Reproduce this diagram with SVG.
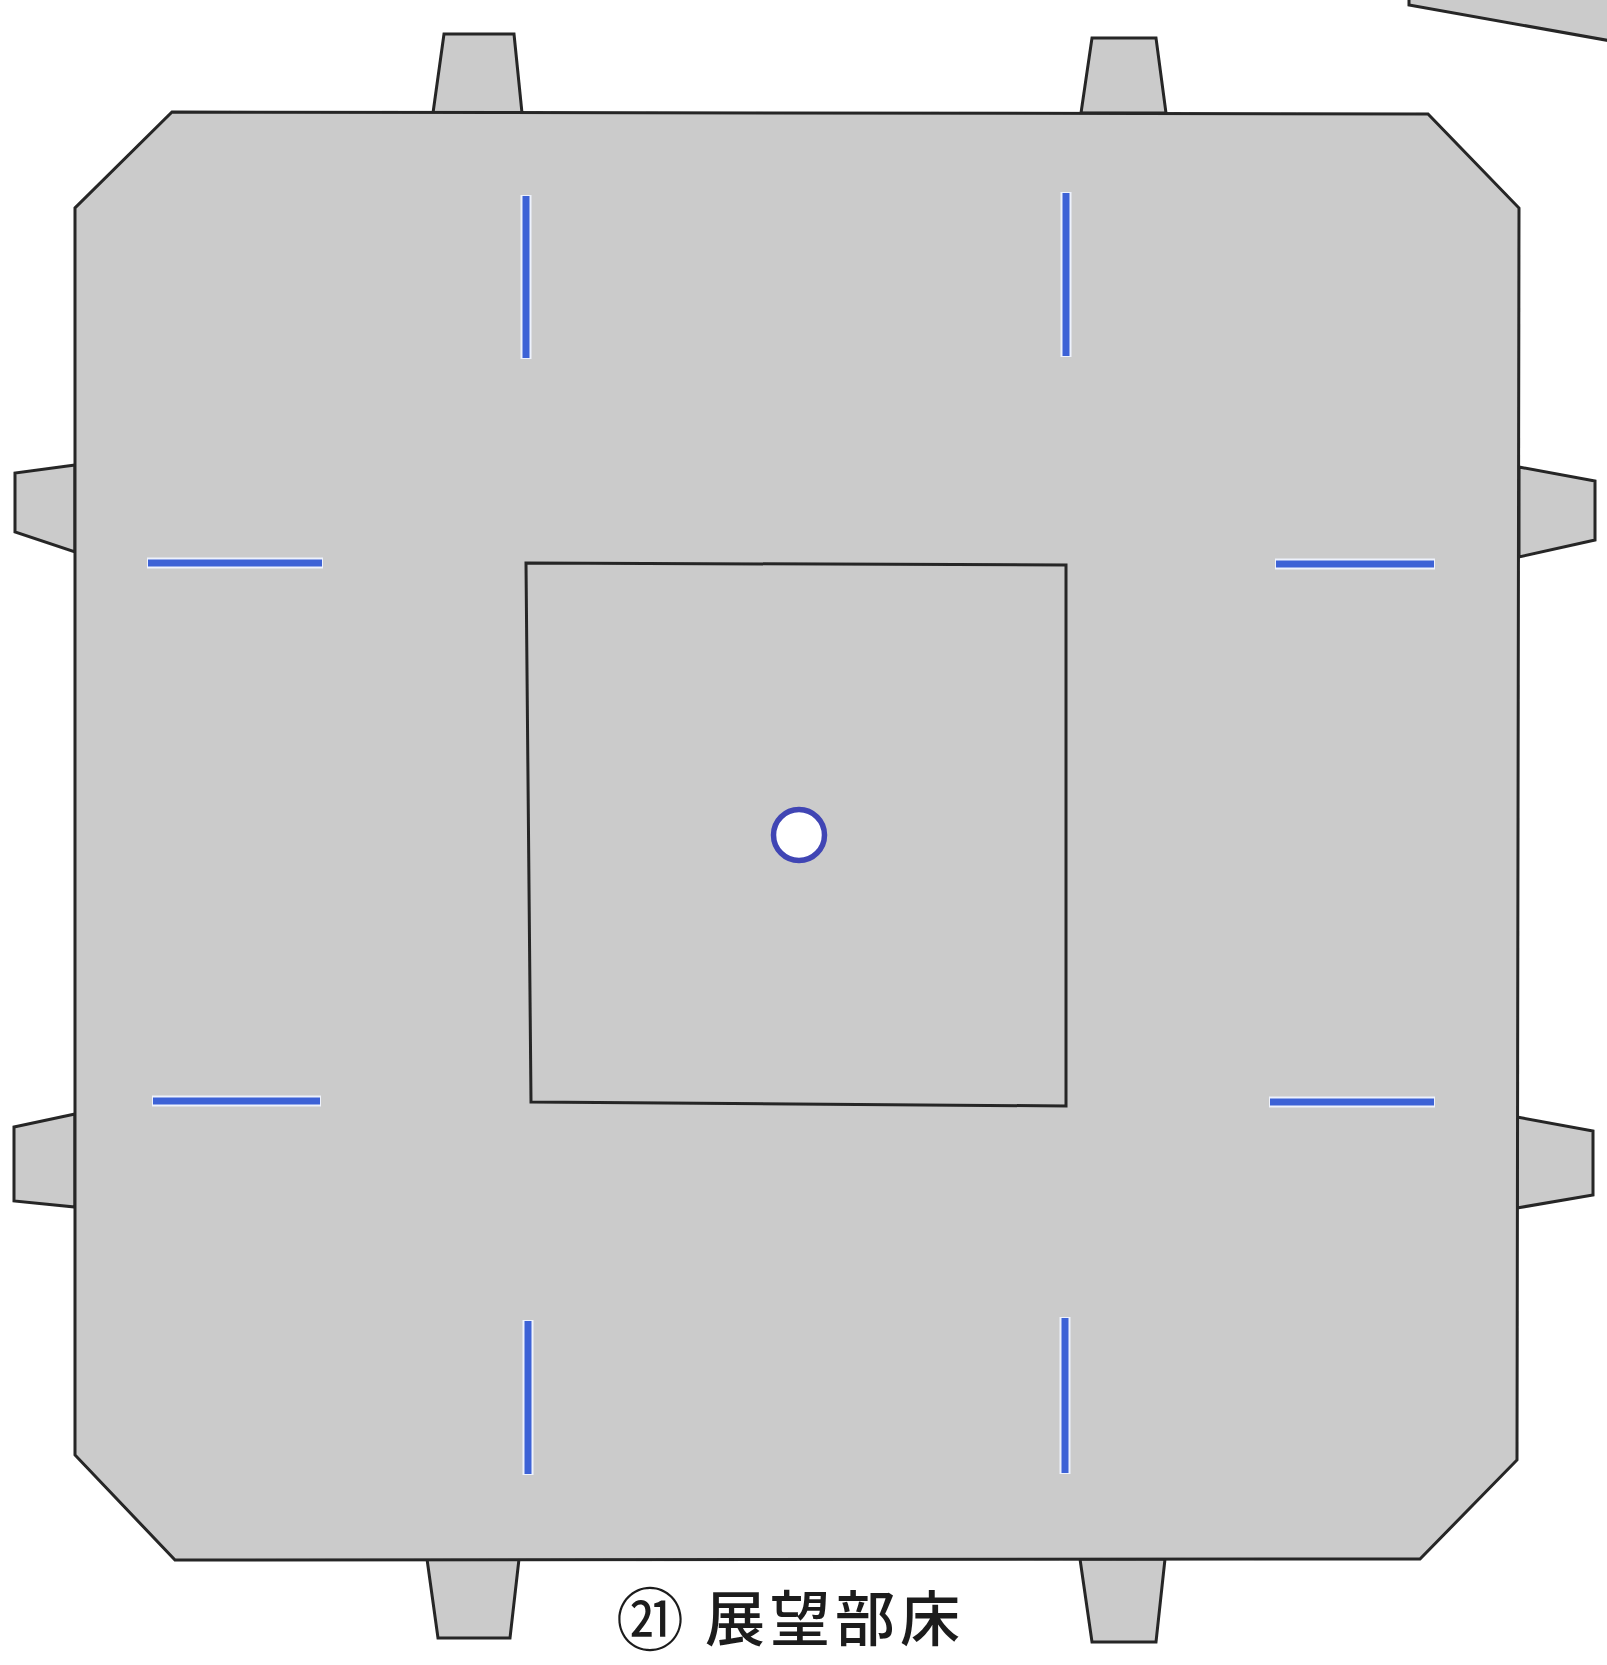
<svg xmlns="http://www.w3.org/2000/svg" width="1607" height="1665" viewBox="0 0 1607 1665">
<defs><filter id="soft" x="-5%" y="-5%" width="110%" height="110%"><feGaussianBlur stdDeviation="0.6"/></filter></defs>
<style>
.f{fill:#cbcbcb;stroke:#262626;stroke-width:3;stroke-linejoin:miter}
.h{stroke:#eef2fc;stroke-width:11;stroke-linecap:butt;fill:none}
.b{stroke:#3c62d6;stroke-width:7;stroke-linecap:butt;fill:none}
.t{font-family:"Noto Sans CJK JP","Noto Sans CJK SC",sans-serif;font-size:60px;font-weight:500;fill:#1a1a1a}
</style>
<rect width="1607" height="1665" fill="#fff"/>
<g filter="url(#soft)">
<g id="fragment"><polygon class="f" points="1409,-4 1409,5 1611,41 1611,-4"/></g>
<g id="tabs">
<polygon class="f" points="433,113 444,34 514,34 522,113"/>
<polygon class="f" points="1081,113 1092,38 1156,38 1166,113"/>
<polygon class="f" points="75,465 15,473 15,532 75,552"/>
<polygon class="f" points="75,1114 14,1127 14,1201 75,1207"/>
<polygon class="f" points="1519,467 1595,481 1595,540 1519,557"/>
<polygon class="f" points="1517,1117 1593,1131 1593,1195 1517,1208"/>
<polygon class="f" points="427,1559 438,1638 510,1638 519,1559"/>
<polygon class="f" points="1080,1559 1092,1642 1156,1642 1165,1559"/>
</g>
<g id="floor"><polygon class="f" points="172,112 1428,114 1519,208 1517,1460 1420,1559 175,1560 75,1455 75,208"/></g>
<g id="opening"><polygon class="f" style="fill:none" points="526,563 1066,565 1066,1106 531,1102"/></g>
<g id="slots">
<path class="h" d="M526 195V359M1066 192V357M528 1320V1475M1065 1317V1474M147 563H323M1275 564H1435M152 1101H321M1269 1102H1435"/>
<path class="b" d="M526 196V358M1066 193V356M528 1321V1474M1065 1318V1473M148 563H322M1276 564H1434M153 1101H320M1270 1102H1434"/>
</g>
<g id="centre"><circle cx="799" cy="835" r="25.5" fill="#fff" stroke="#3f45b4" stroke-width="5.5"/></g>
<g id="title">
<text class="t" x="616" y="1645" style="font-size:68px;font-weight:400">㉑</text>
<text class="t" x="705" y="1641" letter-spacing="5">展望部床</text>
</g>
</g>
</svg>
